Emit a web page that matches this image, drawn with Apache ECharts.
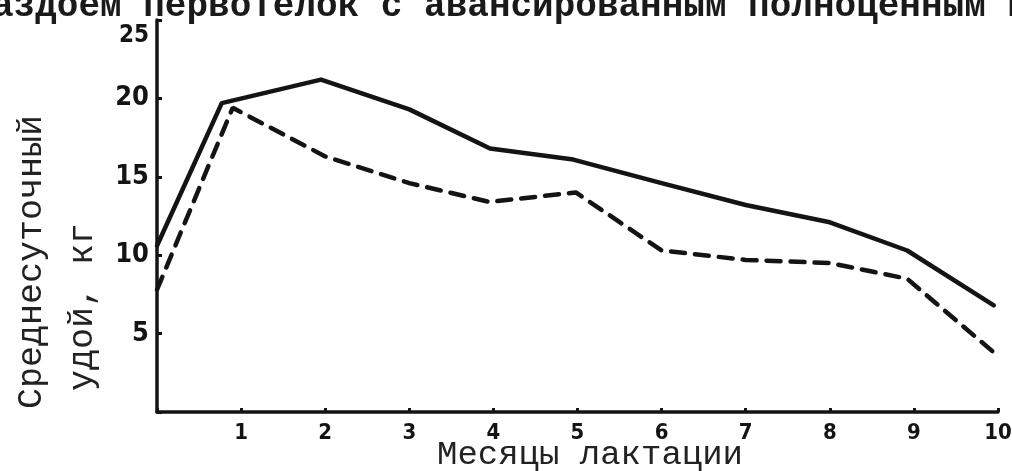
<!DOCTYPE html>
<html>
<head>
<meta charset="utf-8">
<script src="https://cdn.jsdelivr.net/npm/echarts@6/dist/echarts.min.js"></script>
<style>
html,body{margin:0;padding:0;background:#fff;}
#c{width:1012px;height:471px;}
</style>
</head>
<body>
<div id="c"></div>
<script>
// Tick labels
var monthTicks = [1, 2, 3, 4, 5, 6, 7, 8, 9, 10];
var yTicks = [5, 10, 15, 20, 25];

// Solid line: x = month position, y = kg
var solidX = [0, 0.77, 1.95, 3.0, 3.96, 4.95, 6.0, 7.0, 8.0, 8.92, 9.95];
var solidY = [10.6, 19.7, 21.2, 19.3, 16.8, 16.1, 14.6, 13.2, 12.1, 10.3, 6.8];

// Dashed line
var dashX = [0, 0.9, 2.0, 3.0, 3.95, 4.98, 6.0, 7.0, 8.0, 8.92, 9.95];
var dashY = [7.8, 19.4, 16.3, 14.6, 13.4, 14.0, 10.3, 9.7, 9.5, 8.5, 3.8];

var titleText = 'аздоем первотелок с авансированным полноценным к';
var yName1 = 'Среднесуточный';
var yName2 = 'удой, кг';
var xName = 'Месяцы лактации';

function pairs(xs, ys) { return xs.map(function (x, i) { return [x, ys[i]]; }); }

var ink = '#141414';
var chart = echarts.init(document.getElementById('c'));
chart.setOption({
  backgroundColor: '#ffffff',
  animation: false,
  grid: { left: 157, right: 14, top: 20, bottom: 59, containLabel: false, outerBoundsMode: 'none' },
  xAxis: {
    type: 'value', min: 0, max: 10, interval: 1,
    axisLine: { show: true, lineStyle: { color: ink, width: 3.5 } },
    axisTick: { show: true, inside: true, length: 4, lineStyle: { color: ink, width: 3 } },
    splitLine: { show: false },
    axisLabel: {
      margin: 10, color: ink, fontFamily: 'DejaVu Sans Condensed', fontWeight: 'bold', fontSize: 22,
      formatter: function (v) { return monthTicks.indexOf(v) >= 0 ? String(v) : ''; }
    }
  },
  yAxis: {
    type: 'value', min: 0, max: 25, interval: 5,
    axisLine: { show: true, lineStyle: { color: ink, width: 3.5 } },
    axisTick: { show: true, inside: true, length: 5, lineStyle: { color: ink, width: 3 } },
    splitLine: { show: false },
    axisLabel: {
      margin: 8, color: ink, fontFamily: 'DejaVu Sans Condensed', fontWeight: 'bold', fontSize: 27,
      formatter: function (v) {
        if (yTicks.indexOf(v) < 0) return '';
        return v === 25 ? '{top|' + v + '}' : String(v);
      },
      rich: { top: { padding: [32, 0, 0, 0], fontFamily: 'DejaVu Sans Condensed', fontWeight: 'bold', fontSize: 24, color: ink } }
    }
  },
  graphic: [
    { type: 'text', left: -8, top: -11, style: { text: titleText, fill: '#1a1a1a', font: 'bold 36px "Liberation Mono"' } },
    { type: 'text', x: 32, y: 262, rotation: Math.PI / 2,
      style: { text: yName1, fill: '#222', font: '35px "Liberation Mono"', textAlign: 'center', textVerticalAlign: 'middle' } },
    { type: 'text', x: 83, y: 307, rotation: Math.PI / 2,
      style: { text: yName2, fill: '#222', font: '35px "Liberation Mono"', textAlign: 'center', textVerticalAlign: 'middle' } },
    { type: 'text', x: 590, y: 455,
      style: { text: xName, fill: '#222', font: '34px "Liberation Mono"', textAlign: 'center', textVerticalAlign: 'middle' } }
  ],
  series: [
    { type: 'line', data: pairs(solidX, solidY), showSymbol: false, symbol: 'none',
      lineStyle: { color: ink, width: 4.5, type: 'solid', join: 'round', cap: 'round' } },
    { type: 'line', data: pairs(dashX, dashY), showSymbol: false, symbol: 'none',
      lineStyle: { color: ink, width: 4.5, type: [14, 10], cap: 'round' } }
  ]
});
</script>
</body>
</html>
